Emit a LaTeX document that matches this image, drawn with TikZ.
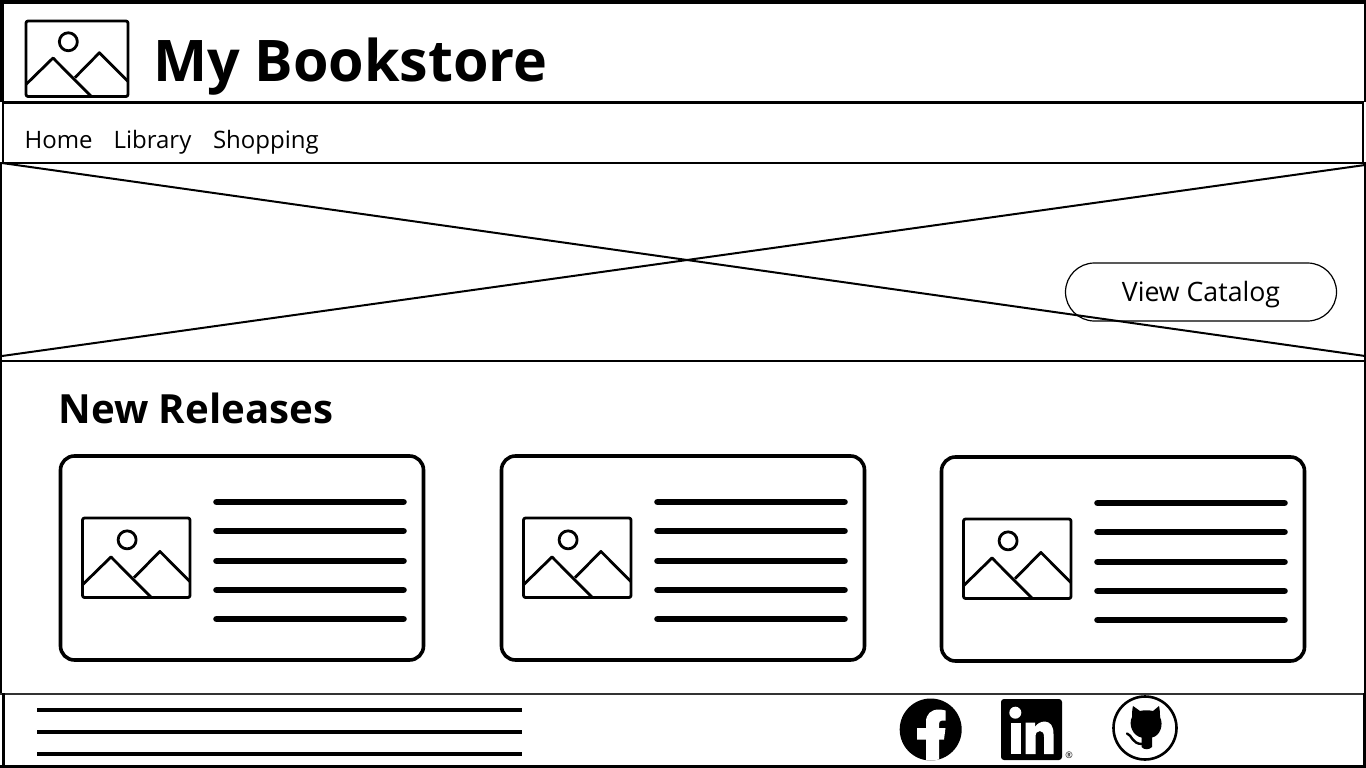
\documentclass[tikz,border=0pt]{standalone}
\usepackage{fontspec}
\setmainfont{Open Sans}
\tikzset{
  x=1pt,y=-1pt,
  border/.style={draw=black,line width=#1},
  thinline/.style={draw=black,line width=2pt},
  cardbox/.style={draw=black,line width=3.6pt,rounded corners=14pt},
  bar/.style={draw=black,line width=6.6pt,line cap=round},
  footbar/.style={draw=black,line width=4pt},
  iconline/.style={draw=black,line width=2.8pt,line join=round},
  txt/.style={anchor=base west,inner sep=0pt,outer sep=0pt,text=black},
}
\newcommand{\pictureicon}[4]{%
  \begin{scope}[shift={(#1,#2)},x=#3pt,y=-#4pt]
    \draw[iconline,rounded corners=2pt] (0,0) rectangle (1,1);
    \draw[iconline] (0,.84) -- (.265,.49) -- (.64,1);
    \draw[iconline] (.48,.75) -- (.72,.42) -- (1,.80);
    \draw[iconline] (.415,.275) circle[radius=9pt];
  \end{scope}}
\newcommand{\cardicon}[3]{%
  \draw[cardbox] (#1,#2) rectangle ++(363,204);
  \pictureicon{#1+22}{#2+62}{107.5}{79.5}
  \foreach \yy in {46,75,105,134,163}
    \draw[bar] (#1+156,#2+\yy) -- ++(#3,0);}
\begin{document}
\begin{tikzpicture}
\useasboundingbox (0,0) rectangle (1366,768);
\fill[white] (0,0) rectangle (1366,768);
% outer frame
\draw[border=4pt] (2,2) -- (1364,2);
\draw[border=4pt] (2,0) -- (2,102);
\draw[border=3pt] (1365,0) -- (1365,102);
% header
\pictureicon{26}{21}{102}{75.5}
\node[txt,font=\bfseries\fontsize{57.4}{57.4}\selectfont] (title) at (153,81.5) {My Bookstore};
% nav
\draw[border=3pt] (2,102.5) -- (1364,102.5);
\draw[border=2pt] (3,102) -- (3,163);
\draw[border=2pt] (1363,102) -- (1363,163);
\draw[border=2pt] (0,163) -- (1366,163);
\node[txt,font=\fontsize{24}{24}\selectfont] (home) at (24.6,148) {Home};
\node[txt,font=\fontsize{24}{24}\selectfont] (library) at (113.6,148) {Library};
\node[txt,font=\fontsize{24}{24}\selectfont] (shopping) at (213,148) {Shopping};
% hero
\draw[border=2pt] (1,163) -- (1,693);
\draw[border=2pt] (1365,163) -- (1365,693);
\node[draw=black,line width=1.2pt,fill=white,rounded corners=29pt,minimum width=271pt,minimum height=58pt,inner sep=0pt] (cta) at (1201,292) {};
\node[inner sep=0pt,font=\fontsize{26.7}{26.7}\selectfont,anchor=base] (ctatext) at (1201,301) {View Catalog};
\draw[thinline] (2,163) -- (1365,356);
\draw[thinline] (2,356) -- (1365,165);
\draw[border=2pt] (0,360.5) -- (1366,360.5);
% new releases
\node[txt,font=\bfseries\fontsize{40.2}{40.2}\selectfont] (nr) at (58.5,423) {New Releases};
\cardicon{60.5}{456}{187}
\cardicon{501.5}{456}{187}
\cardicon{941.5}{457}{187}
% footer
\draw[draw=black!80,line width=2pt] (0,693.5) -- (1366,693.5);
\draw[border=3pt] (3,693) -- (3,768);
\draw[border=3pt] (1364.5,693) -- (1364.5,768);
\draw[border=4pt] (0,766.5) -- (1366,766.5);
\foreach \yy in {709.5,731.5,753.5}
  \draw[footbar] (37,\yy) -- (521.5,\yy);
% facebook
\fill[black] (930.7,729.5) circle[radius=31pt];
\begin{scope}
  \clip (930.7,729.5) circle[radius=31pt];
  \fill[white] (926,765) -- (926,739.5) -- (917,739.5) -- (917,728) -- (926,728) -- (926,722)
    .. controls (926,714) and (931,709.5) .. (939,709.5) .. controls (941,709.5) and (943.5,710) .. (945.5,710.5)
    -- (945.5,720.5) -- (942,720.5) .. controls (940,720.5) and (939,722) .. (939,724) -- (939,728)
    -- (945.5,728) -- (944,739.5) -- (939,739.5) -- (939,765) -- cycle;
\end{scope}
% linkedin
\fill[black,rounded corners=3pt] (1001,699) rectangle (1062,760);
\fill[white] (1015.3,712.7) circle[radius=6pt];
\fill[white] (1010.5,722.5) rectangle (1020.5,754);
\fill[white] (1025.5,722.5) -- (1035,722.5) -- (1035,727)
   .. controls (1037,723.5) and (1041,721.5) .. (1045,721.5)
   .. controls (1050.5,722) and (1053.5,726) .. (1053.5,734) -- (1053.5,754) -- (1044,754) -- (1044,737)
   .. controls (1044,733) and (1042.5,731) .. (1040,731)
   .. controls (1037,731) and (1035.5,733) .. (1035.5,737) -- (1035.5,754) -- (1025.5,754) -- cycle;
\node[inner sep=0pt,font=\fontsize{9}{9}\selectfont] (reg) at (1069,755) {®};
% github
\draw[draw=black,line width=2.6pt] (1145,728) circle[radius=31.5pt];
\fill[black] (1133,706) -- (1140,711) .. controls (1144,710) and (1149,710) .. (1153,711)
  -- (1159,706) .. controls (1160,710) and (1160,714) .. (1160,717)
  .. controls (1164,725) and (1160,736) .. (1152,737.5)
  -- (1152,747) .. controls (1149,750) and (1144,750) .. (1141.5,747) -- (1141.5,737.5)
  .. controls (1133,736) and (1128,725) .. (1132,717) .. controls (1132,714) and (1132,710) .. (1133,706) -- cycle;
\draw[draw=black,line width=2.4pt,line cap=round] (1127,733.5) .. controls (1132,735) and (1132,744) .. (1142,744);
\end{tikzpicture}
\end{document}
